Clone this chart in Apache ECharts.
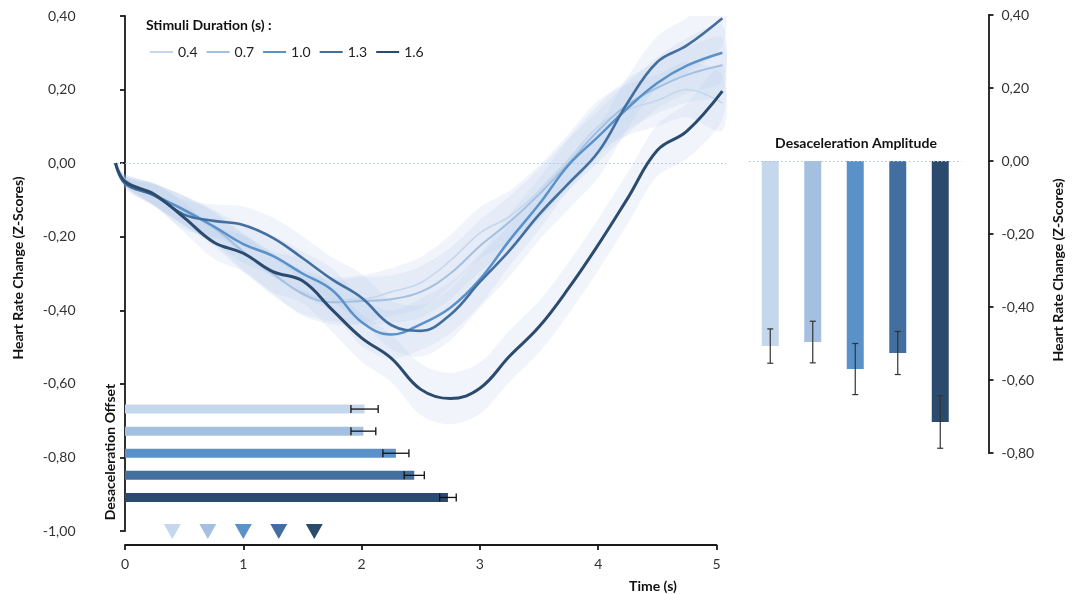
<!DOCTYPE html>
<html>
<head>
<meta charset="utf-8">
<script src="https://cdn.jsdelivr.net/npm/echarts@6/dist/echarts.min.js"></script>
<style>
html, body { margin: 0; padding: 0; background: #fff; }
#main { width: 1075px; height: 594px; }
</style>
</head>
<body>
<div id="main"></div>
<script>
var durations = ['0.4', '0.7', '1.0', '1.3', '1.6'];
var time = [-0.08, 0, 0.25, 0.5, 0.75, 1.0, 1.25, 1.5, 1.75, 2.0, 2.25, 2.5, 2.75, 3.0, 3.25, 3.5, 3.75, 4.0, 4.25, 4.5, 4.75, 5.05];

// mean heart rate change (z-scores) per stimulus duration
var hr04 = [0, -0.045, -0.085, -0.13, -0.18, -0.245, -0.305, -0.35, -0.37, -0.37, -0.35, -0.325, -0.265, -0.19, -0.145, -0.076, 0.01, 0.1, 0.145, 0.17, 0.2, 0.163];
var hr07 = [0, -0.045, -0.085, -0.13, -0.175, -0.24, -0.3, -0.355, -0.378, -0.375, -0.37, -0.35, -0.30, -0.225, -0.16, -0.085, 0.0, 0.088, 0.16, 0.205, 0.24, 0.266];
var hr10 = [0, -0.05, -0.088, -0.127, -0.172, -0.22, -0.252, -0.30, -0.345, -0.432, -0.466, -0.438, -0.393, -0.316, -0.21, -0.112, -0.005, 0.072, 0.15, 0.218, 0.265, 0.30];
var hr13 = [0, -0.055, -0.088, -0.14, -0.157, -0.168, -0.203, -0.258, -0.316, -0.366, -0.44, -0.456, -0.412, -0.323, -0.238, -0.14, -0.055, 0.03, 0.165, 0.275, 0.32, 0.394];
var hr16 = [0, -0.05, -0.085, -0.148, -0.215, -0.245, -0.295, -0.32, -0.398, -0.475, -0.53, -0.615, -0.64, -0.612, -0.525, -0.445, -0.34, -0.222, -0.095, 0.035, 0.087, 0.196];
// half width of the shaded band
var ciHalf = [0, 0.015, 0.03, 0.04, 0.045, 0.05, 0.055, 0.06, 0.06, 0.065, 0.065, 0.07, 0.07, 0.07, 0.07, 0.07, 0.07, 0.07, 0.07, 0.07, 0.075, 0.075];

var offsetMean = [2.025, 2.015, 2.29, 2.445, 2.73];
var offsetErr = [0.115, 0.105, 0.11, 0.085, 0.07];
var amplitudeMean = [-0.507, -0.496, -0.570, -0.526, -0.715];
var amplitudeErr = [0.047, 0.057, 0.07, 0.059, 0.072];

var colors = ['#c5d7ec', '#a4c0e0', '#5b91c9', '#426fa0', '#2b4b6e'];
var widths = [1.6, 2, 2.5, 2.6, 3];
var curves = [hr04, hr07, hr10, hr13, hr16];
var font = 'Lato';

var myChart = echarts.init(document.getElementById('main'));

function commaFmt(v) {
    return v.toFixed(2).replace('.', ',');
}

var zeroLine = { type: [1.5, 2.5], color: '#a3c2e6', width: 1.2 };

var series = [];

// shaded bands, one polygon per curve
curves.forEach(function (vals, k) {
    series.push({
        type: 'custom', xAxisIndex: 0, yAxisIndex: 0, silent: true, clip: true, z: 1,
        data: time.map(function (t, i) { return [t, vals[i] - ciHalf[i], vals[i] + ciHalf[i]]; }),
        encode: { x: 0, y: [1, 2] },
        renderItem: function (params, api) {
            if (params.dataIndex !== 0) return;
            var upper = [], lower = [];
            time.forEach(function (t, i) {
                upper.push(api.coord([t, vals[i] + ciHalf[i]]));
                lower.unshift(api.coord([t, vals[i] - ciHalf[i]]));
            });
            return {
                type: 'polygon',
                shape: { points: upper.concat(lower), smooth: 0.3 },
                style: { fill: 'rgba(170,195,230,0.17)' }
            };
        }
    });
});

curves.forEach(function (vals, k) {
    var s = {
        name: durations[k], type: 'line', xAxisIndex: 0, yAxisIndex: 0,
        data: time.map(function (t, i) { return [t, vals[i]]; }),
        smooth: 0.4, symbol: 'none',
        lineStyle: { width: widths[k], color: colors[k] },
        itemStyle: { color: colors[k] }, z: 3 + k
    };
    if (k === 0) {
        s.markLine = {
            silent: true, symbol: 'none', label: { show: false },
            lineStyle: zeroLine,
            data: [[{ coord: [-0.1, 0] }, { coord: [5.08, 0] }]]
        };
    }
    series.push(s);
});

// stimulus duration markers
series.push({
    type: 'scatter', xAxisIndex: 1, yAxisIndex: 1,
    symbol: 'triangle', symbolRotate: 180, symbolSize: [17, 15],
    data: durations.map(function (d, i) {
        return { value: [parseFloat(d), 0.45], itemStyle: { color: colors[i], opacity: 1 } };
    })
});

// deceleration offset bars
series.push({
    type: 'bar', xAxisIndex: 2, yAxisIndex: 2, barWidth: 9,
    data: offsetMean.map(function (v, i) {
        return { value: v, itemStyle: { color: colors[i] } };
    })
});
series.push({
    type: 'custom', xAxisIndex: 2, yAxisIndex: 2, z: 5,
    data: offsetMean.map(function (m, i) { return [i, m - offsetErr[i], m + offsetErr[i]]; }),
    encode: { y: 0, x: [1, 2] },
    renderItem: function (params, api) {
        var a = api.coord([api.value(1), api.value(0)]);
        var b = api.coord([api.value(2), api.value(0)]);
        var st = { stroke: '#111', lineWidth: 1.3 };
        return {
            type: 'group', children: [
                { type: 'line', shape: { x1: a[0], y1: a[1], x2: b[0], y2: b[1] }, style: st },
                { type: 'line', shape: { x1: a[0], y1: a[1] - 4, x2: a[0], y2: a[1] + 4 }, style: st },
                { type: 'line', shape: { x1: b[0], y1: b[1] - 4, x2: b[0], y2: b[1] + 4 }, style: st }
            ]
        };
    }
});

// deceleration amplitude bars
series.push({
    type: 'bar', xAxisIndex: 3, yAxisIndex: 3, barWidth: 17,
    data: amplitudeMean.map(function (v, i) {
        return { value: v, itemStyle: { color: colors[i] } };
    }),
    markLine: {
        silent: true, symbol: 'none', label: { show: false },
        lineStyle: zeroLine,
        data: [{ yAxis: 0 }]
    }
});
series.push({
    type: 'custom', xAxisIndex: 3, yAxisIndex: 3, z: 5,
    data: amplitudeMean.map(function (m, i) { return [i, m - amplitudeErr[i], m + amplitudeErr[i]]; }),
    encode: { x: 0, y: [1, 2] },
    renderItem: function (params, api) {
        var a = api.coord([api.value(0), api.value(1)]);
        var b = api.coord([api.value(0), api.value(2)]);
        var st = { stroke: '#333', lineWidth: 1.2 };
        return {
            type: 'group', children: [
                { type: 'line', shape: { x1: a[0], y1: a[1], x2: b[0], y2: b[1] }, style: st },
                { type: 'line', shape: { x1: a[0] - 3, y1: a[1], x2: a[0] + 3, y2: a[1] }, style: st },
                { type: 'line', shape: { x1: b[0] - 3, y1: b[1], x2: b[0] + 3, y2: b[1] }, style: st }
            ]
        };
    }
});

var axisLine = { lineStyle: { color: '#1a1a1a', width: 1.8 } };
var axisTick = { length: 5, lineStyle: { color: '#1a1a1a', width: 1.8 } };
var labelStyle = { fontFamily: font, fontSize: 14, color: '#333' };

function boldText(txt, x, y, rot) {
    return {
        type: 'text', x: x, y: y, rotation: rot || 0,
        style: {
            text: txt, fill: '#111', font: 'bold 14px ' + font,
            align: 'center', verticalAlign: 'middle',
            textAlign: 'center', textVerticalAlign: 'middle'
        }
    };
}

option = {
    backgroundColor: '#fff',
    animation: false,
    grid: [
        { left: 89.5, top: 16, width: 638.8, height: 515 },
        { left: 125, top: 515, width: 591.5, height: 30 },
        { left: 125, top: 398, width: 591.5, height: 110.5 },
        { left: 749, top: 15, width: 212.5, height: 438 }
    ],
    xAxis: [
        { gridIndex: 0, type: 'value', min: -0.3, max: 5.1, show: false },
        {
            gridIndex: 1, type: 'value', min: 0, max: 5, interval: 1,
            axisLine: axisLine, axisTick: axisTick, splitLine: { show: false },
            axisLabel: Object.assign({ margin: 12 }, labelStyle)
        },
        { gridIndex: 2, type: 'value', min: 0, max: 5, show: false },
        { gridIndex: 3, type: 'category', data: durations, show: false }
    ],
    yAxis: [
        {
            gridIndex: 0, type: 'value', min: -1, max: 0.4, interval: 0.2,
            axisLine: { show: true, lineStyle: axisLine.lineStyle }, axisTick: { show: true, length: 5, lineStyle: axisTick.lineStyle },
            splitLine: { show: false },
            axisLabel: Object.assign({ margin: 14, formatter: commaFmt }, labelStyle)
        },
        { gridIndex: 1, type: 'value', min: 0, max: 1, show: false },
        { gridIndex: 2, type: 'category', data: durations, inverse: true, show: false },
        {
            gridIndex: 3, type: 'value', min: -0.8, max: 0.4, interval: 0.2,
            position: 'right', offset: 27,
            axisLine: { show: true, lineStyle: axisLine.lineStyle }, axisTick: { show: true, length: 5, lineStyle: axisTick.lineStyle },
            splitLine: { show: false },
            axisLabel: Object.assign({ margin: 13, formatter: commaFmt }, labelStyle)
        }
    ],
    legend: {
        data: durations, left: 144, top: 40, itemWidth: 23, itemHeight: 14, itemGap: 8,
        selectedMode: false,
        itemStyle: { opacity: 0 },
        textStyle: { fontFamily: font, fontSize: 14, color: '#222' }
    },
    graphic: [
        {
            type: 'text', x: 146, y: 25,
            style: {
                text: 'Stimuli Duration (s) :', fill: '#111', font: 'bold 14px ' + font,
                align: 'left', verticalAlign: 'middle', textAlign: 'left', textVerticalAlign: 'middle'
            }
        },
        boldText('Desaceleration Amplitude', 856, 143),
        boldText('Time (s)', 653, 586),
        boldText('Heart Rate Change (Z-Scores)', 18, 268, Math.PI / 2),
        boldText('Heart Rate Change (Z-Scores)', 1058, 270, Math.PI / 2),
        boldText('Desaceleration Offset', 110, 452, Math.PI / 2)
    ],
    series: series
};

myChart.setOption(option);
</script>
</body>
</html>
